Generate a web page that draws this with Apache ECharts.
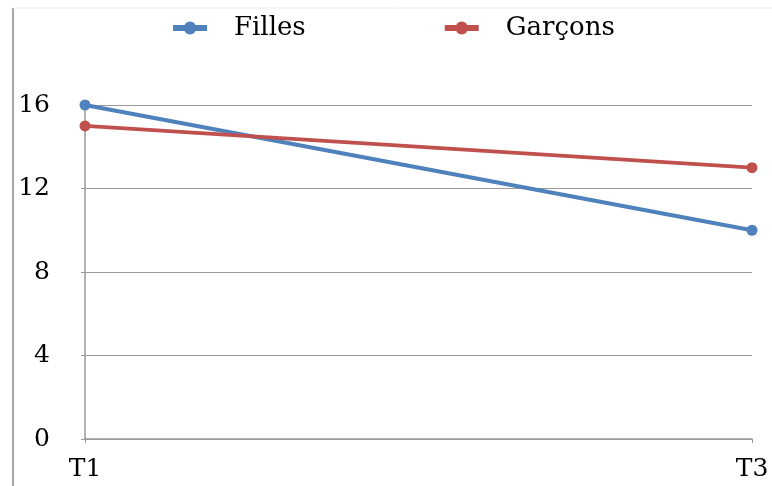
<!DOCTYPE html>
<html>
<head>
<meta charset="utf-8">
<script src="https://cdn.jsdelivr.net/npm/echarts@6/dist/echarts.min.js"></script>
<style>
  html, body { margin: 0; padding: 0; background: #fff; }
  #chart { width: 772px; height: 486px; }
</style>
</head>
<body>
<div id="chart"></div>
<script>
// Scores at two time points, by group
const categories = ['T1', 'T3'];
const filles = [16, 10];
const garcons = [15, 13];
const yTicks = { min: 0, max: 16, interval: 4 };

const serif = '"DejaVu Serif", "Liberation Serif", serif';
const chart = echarts.init(document.getElementById('chart'));

chart.setOption({
  animation: false,
  backgroundColor: '#fff',
  graphic: [
    // outer frame (left and top edges)
    { type: 'line', shape: { x1: 13, y1: 8, x2: 13, y2: 486 }, style: { stroke: '#a6a6a6', lineWidth: 2 } },
    { type: 'line', shape: { x1: 13, y1: 8, x2: 772, y2: 8 }, style: { stroke: '#ececec', lineWidth: 1 } }
  ],
  legend: {
    top: 10,
    left: 165,
    itemGap: 136,
    itemWidth: 34,
    itemHeight: 16,
    lineStyle: { width: 6 },
    textStyle: { fontFamily: serif, fontSize: 26, color: '#000', padding: [0, 0, 0, 22] },
    data: ['Filles', 'Garçons']
  },
  grid: { left: 85, right: 20, top: 105, bottom: 47 },
  xAxis: {
    type: 'category',
    data: categories,
    boundaryGap: false,
    axisLine: { lineStyle: { color: '#999', width: 1.5 } },
    axisTick: { show: true, length: 4, lineStyle: { color: '#999' } },
    axisLabel: { fontFamily: serif, fontSize: 25, color: '#000', margin: 18 }
  },
  yAxis: {
    type: 'value',
    min: yTicks.min,
    max: yTicks.max,
    interval: yTicks.interval,
    axisLine: { show: true, lineStyle: { color: '#999', width: 1.5 } },
    axisTick: { show: true, length: 4, lineStyle: { color: '#999' } },
    splitLine: { lineStyle: { color: '#999', width: 1.2 } },
    axisLabel: { fontFamily: serif, fontSize: 25, color: '#000', margin: 35 }
  },
  series: [
    {
      name: 'Filles',
      type: 'line',
      data: filles,
      symbol: 'circle',
      symbolSize: 11,
      color: '#4F81BD',
      lineStyle: { width: 4, color: '#4F81BD' },
      itemStyle: { color: '#4F81BD' }
    },
    {
      name: 'Garçons',
      type: 'line',
      data: garcons,
      symbol: 'circle',
      symbolSize: 11,
      color: '#C0504D',
      lineStyle: { width: 4, color: '#C0504D' },
      itemStyle: { color: '#C0504D' }
    }
  ]
});
</script>
</body>
</html>
